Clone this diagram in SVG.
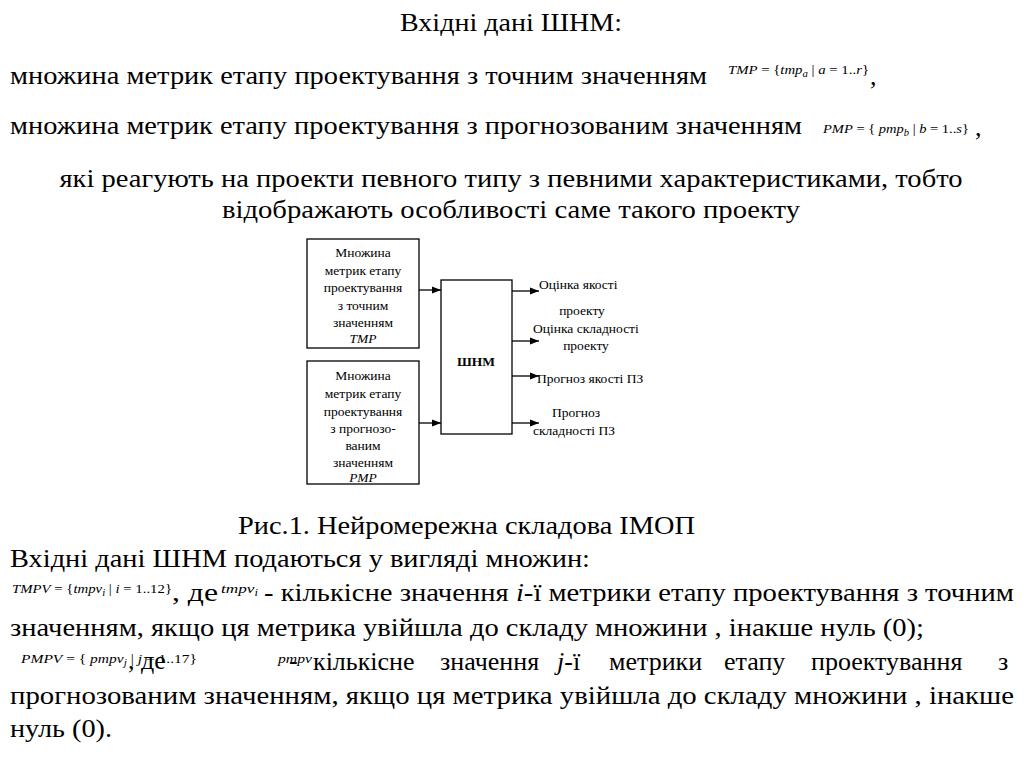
<svg xmlns="http://www.w3.org/2000/svg" width="1024" height="768" viewBox="0 0 1024 768">
<defs>
<style>
text{fill:#000;font-family:'Liberation Serif','Times New Roman',serif}
.m{font-size:26px}
.f{font-size:13px;font-style:italic}
.fn{font-style:normal}
.sub{font-size:9.5px}
.b{font-size:13.5px}
.lb{font-size:13.5px}
.it{font-style:italic}
.box{fill:#fff;stroke:#000;stroke-width:1.3}
.ln{stroke:#000;stroke-width:1.3;fill:none}
</style>
<marker id="ah" markerUnits="userSpaceOnUse" markerWidth="10" markerHeight="8" refX="9" refY="4" orient="auto">
<path d="M0,0.5 L9,4 L0,7.5 Z" fill="#000"/>
</marker>
</defs>
<rect width="1024" height="768" fill="#fff"/>

<g id="header">
<text class="m" x="511" y="31" text-anchor="middle" textLength="222" lengthAdjust="spacingAndGlyphs">Вхідні дані ШНМ:</text>
<text class="m" x="10" y="84" textLength="697" lengthAdjust="spacingAndGlyphs">множина метрик етапу проектування з точним значенням</text>
<text class="f" x="728" y="74" textLength="141" lengthAdjust="spacingAndGlyphs">TMP<tspan class="fn"> = {</tspan>tmp<tspan class="sub" dy="3">a</tspan><tspan class="fn" dy="-3"> | </tspan>a<tspan class="fn"> = 1..</tspan>r<tspan class="fn">}</tspan></text>
<text class="m" x="870" y="85">,</text>
<text class="m" x="10" y="134" textLength="792" lengthAdjust="spacingAndGlyphs">множина метрик етапу проектування з прогнозованим значенням</text>
<text class="f" x="823" y="133" textLength="146" lengthAdjust="spacingAndGlyphs">PMP<tspan class="fn"> = { </tspan>pmp<tspan class="sub" dy="3">b</tspan><tspan class="fn" dy="-3"> | </tspan>b<tspan class="fn"> = 1..</tspan>s<tspan class="fn">}</tspan></text>
<text class="m" x="975" y="136">,</text>
<text class="m" x="511" y="187" text-anchor="middle" textLength="903" lengthAdjust="spacingAndGlyphs">які реагують на проекти певного типу з певними характеристиками, тобто</text>
<text class="m" x="511" y="218" text-anchor="middle" textLength="578" lengthAdjust="spacingAndGlyphs">відображають особливості саме такого проекту</text>
</g>

<g id="node-tmp">
<rect class="box" x="307" y="239" width="112" height="109"/>
<text class="b" text-anchor="middle"><tspan x="363" y="257">Множина</tspan><tspan x="363" y="275">метрик етапу</tspan><tspan x="363" y="292">проектування</tspan><tspan x="363" y="310">з точним</tspan><tspan x="363" y="327">значенням</tspan><tspan x="363" y="343" class="it">TMP</tspan></text>
</g>

<g id="node-pmp">
<rect class="box" x="307" y="361" width="112" height="123"/>
<text class="b" text-anchor="middle"><tspan x="363" y="380">Множина</tspan><tspan x="363" y="398">метрик етапу</tspan><tspan x="363" y="416">проектування</tspan><tspan x="363" y="433">з прогнозо-</tspan><tspan x="363" y="450">ваним</tspan><tspan x="363" y="467">значенням</tspan><tspan x="363" y="482" class="it">PMP</tspan></text>
</g>

<g id="node-shnm">
<rect class="box" x="441" y="280" width="71" height="154"/>
<text class="b" x="476" y="366" text-anchor="middle" font-weight="bold">ШНМ</text>
</g>

<g id="connectors">
<line class="ln" x1="419" y1="290" x2="441" y2="290" marker-end="url(#ah)"/>
<line class="ln" x1="419" y1="423" x2="441" y2="423" marker-end="url(#ah)"/>
<line class="ln" x1="512" y1="291" x2="539" y2="291" marker-end="url(#ah)"/>
<line class="ln" x1="512" y1="341" x2="539" y2="341" marker-end="url(#ah)"/>
<line class="ln" x1="512" y1="376" x2="539" y2="376" marker-end="url(#ah)"/>
<line class="ln" x1="512" y1="423" x2="539" y2="423" marker-end="url(#ah)"/>
</g>

<g id="outputs">
<text class="lb" x="539" y="289">Оцінка якості</text>
<text class="lb" x="582" y="315" text-anchor="middle">проекту</text>
<text class="lb" x="533" y="333">Оцінка складності</text>
<text class="lb" x="586" y="350" text-anchor="middle">проекту</text>
<text class="lb" x="537" y="383">Прогноз якості ПЗ</text>
<text class="lb" x="576" y="417" text-anchor="middle">Прогноз</text>
<text class="lb" x="533" y="435">складності ПЗ</text>
</g>

<g id="body">
<text class="m" x="238" y="534" textLength="457" lengthAdjust="spacingAndGlyphs">Рис.1. Нейромережна складова ІМОП</text>
<text class="m" x="10" y="567" textLength="580" lengthAdjust="spacingAndGlyphs">Вхідні дані ШНМ подаються у вигляді множин:</text>
<text class="f" x="12" y="593" textLength="160" lengthAdjust="spacingAndGlyphs">TMPV<tspan class="fn"> = {</tspan>tmpv<tspan class="sub" dy="3">i</tspan><tspan class="fn" dy="-3"> | </tspan>i<tspan class="fn"> = 1..12}</tspan></text>
<text class="m" x="172" y="601" textLength="46" lengthAdjust="spacingAndGlyphs">, де</text>
<text class="f" x="221" y="593" textLength="37" lengthAdjust="spacingAndGlyphs">tmpv<tspan class="sub" dy="3">i</tspan></text>
<text class="m" x="264" y="601" textLength="750" lengthAdjust="spacingAndGlyphs">- кількісне значення <tspan class="it">i</tspan>-ї метрики етапу проектування з точним</text>
<text class="m" x="10" y="636" textLength="914" lengthAdjust="spacingAndGlyphs">значенням, якщо ця метрика увійшла до складу множини , інакше нуль (0);</text>
<text class="f" x="21" y="663" textLength="176" lengthAdjust="spacingAndGlyphs">PMPV<tspan class="fn"> = { </tspan>pmpv<tspan class="sub" dy="3">j</tspan><tspan class="fn" dy="-3"> | </tspan>j<tspan class="fn"> = 1..17}</tspan></text>
<text class="m" x="128" y="669">, де</text>
<text class="f" x="278" y="663" textLength="34" lengthAdjust="spacingAndGlyphs">pmpv</text>
<text class="m" x="289" y="669">-</text>
<text class="m" y="670"><tspan x="313">кількісне</tspan><tspan x="440">значення</tspan><tspan x="557" class="it">j</tspan><tspan>-ї</tspan><tspan x="609">метрики</tspan><tspan x="724">етапу</tspan><tspan x="811">проектування</tspan><tspan x="998">з</tspan></text>
<text class="m" x="10" y="704" textLength="1004" lengthAdjust="spacingAndGlyphs">прогнозованим значенням, якщо ця метрика увійшла до складу множини , інакше</text>
<text class="m" x="10" y="737" textLength="102" lengthAdjust="spacingAndGlyphs">нуль (0).</text>
</g>
</svg>
